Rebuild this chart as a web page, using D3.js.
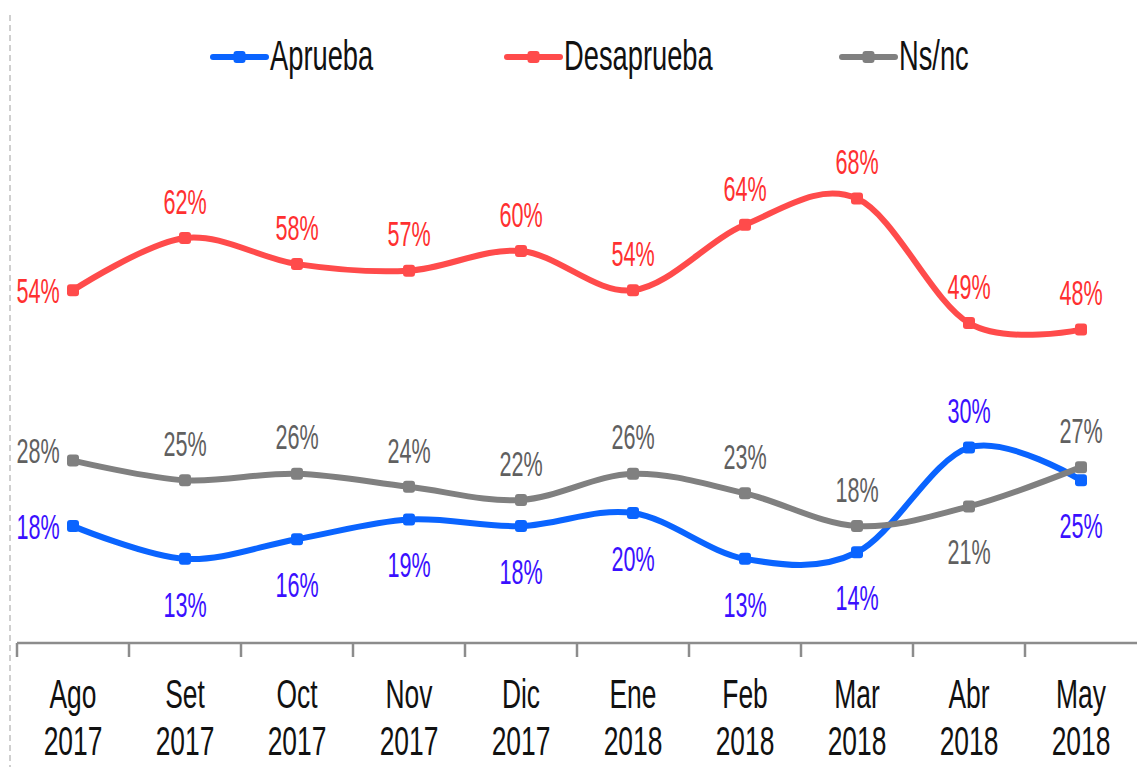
<!DOCTYPE html>
<html>
<head>
<meta charset="utf-8">
<script src="https://cdn.jsdelivr.net/npm/d3@7"></script>
<style>
  body { margin: 0; background: #fff; }
  text { font-family: "Liberation Sans", Arial, sans-serif; }
</style>
</head>
<body>
<div id="chart"></div>
<script>
(() => {

// DATA
const months = ["Ago", "Set", "Oct", "Nov", "Dic", "Ene", "Feb", "Mar", "Abr", "May"];
const years = ["2017", "2017", "2017", "2017", "2017", "2018", "2018", "2018", "2018", "2018"];
const aprueba = [18, 13, 16, 19, 18, 20, 13, 14, 30, 25];
const desaprueba = [54, 62, 58, 57, 60, 54, 64, 68, 49, 48];
const nsnc = [28, 25, 26, 24, 22, 26, 23, 18, 21, 27];

// label placement: l = left, a = above, b = below
const apruebaPos = ["l", "b", "b", "b", "b", "b", "b", "b", "a", "b"];
const desapruebaPos = ["l", "a", "a", "a", "a", "a", "a", "a", "a", "a"];
const nsncPos = ["l", "a", "a", "a", "a", "a", "a", "a", "b", "a"];

const series = [
  { name: "Aprueba", values: aprueba, pos: apruebaPos, line: "#0a64ff", label: "#3a10ff" },
  { name: "Desaprueba", values: desaprueba, pos: desapruebaPos, line: "#ff4b4b", label: "#ff3030" },
  { name: "Ns/nc", values: nsnc, pos: nsncPos, line: "#808080", label: "#606060" }
];

const width = 1138, height = 767;

const svg = d3.select("#chart")
  .append("svg")
  .attr("width", width)
  .attr("height", height);

// scales
const x = d3.scaleBand()
  .domain(months)
  .range([17, 1137])
  .padding(0);

const y = d3.scaleLinear()
  .domain([0, 90])
  .range([644, 54.5]);

const cx = i => x(months[i]) + x.bandwidth() / 2;

// squeezed text helper
function txt(g, str, tx, ty, size, sx, fill, anchor) {
  return g.append("text")
    .attr("transform", `translate(${tx},${ty}) scale(${sx},1)`)
    .attr("text-anchor", anchor || "middle")
    .attr("font-size", size)
    .attr("fill", fill)
    .text(str);
}

// left dashed border
svg.append("line")
  .attr("x1", 10).attr("x2", 10)
  .attr("y1", 15).attr("y2", height)
  .attr("stroke", "#cfcfcf")
  .attr("stroke-width", 2)
  .attr("stroke-dasharray", "6,4");

// x axis
const axisY = y(0) - 1;
svg.append("line")
  .attr("x1", 17).attr("x2", 1137)
  .attr("y1", axisY).attr("y2", axisY)
  .attr("stroke", "#8c8c8c")
  .attr("stroke-width", 2.5);

svg.selectAll(".tick")
  .data(months)
  .enter()
  .append("line")
  .attr("x1", d => x(d)).attr("x2", d => x(d))
  .attr("y1", axisY).attr("y2", axisY + 14)
  .attr("stroke", "#8c8c8c")
  .attr("stroke-width", 2.5);

const axisG = svg.append("g");
months.forEach((m, i) => {
  txt(axisG, m, cx(i), 708, 40, 0.66, "#111");
  txt(axisG, years[i], cx(i), 755, 40, 0.66, "#111");
});

// lines
const line = d3.line()
  .x((d, i) => cx(i))
  .y(d => y(d))
  .curve(d3.curveCardinal.tension(0));

series.forEach(s => {
  svg.append("path")
    .datum(s.values)
    .attr("d", line)
    .attr("fill", "none")
    .attr("stroke", s.line)
    .attr("stroke-width", 6)
    .attr("stroke-linecap", "round");

  svg.selectAll(null)
    .data(s.values)
    .enter()
    .append("rect")
    .attr("x", (d, i) => cx(i) - 6)
    .attr("y", d => y(d) - 6)
    .attr("width", 12)
    .attr("height", 12)
    .attr("rx", 3)
    .attr("fill", s.line);

  const lg = svg.append("g").attr("dominant-baseline", "central");
  s.values.forEach((v, i) => {
    let lx = cx(i), ly = y(v);
    if (s.pos[i] === "l") {
      lx = 38;
      if (s.name === "Ns/nc") ly -= 10;
    } else if (s.pos[i] === "a") {
      ly -= 37;
    } else {
      ly += 45;
    }
    txt(lg, v + "%", lx, ly, 36, 0.6, s.label);
  });
});

// legend
const legendX = [213, 507, 842];
const legend = svg.append("g");
series.forEach((s, i) => {
  const lx = legendX[i];
  legend.append("line")
    .attr("x1", lx).attr("x2", lx + 53)
    .attr("y1", 57).attr("y2", 57)
    .attr("stroke", s.line)
    .attr("stroke-width", 6)
    .attr("stroke-linecap", "round");
  legend.append("rect")
    .attr("x", lx + 26.5 - 6).attr("y", 51)
    .attr("width", 12).attr("height", 12)
    .attr("rx", 3)
    .attr("fill", s.line);
  txt(legend, s.name, lx + 57, 70, 42, 0.65, "#111", "start");
});

})();
</script>
</body>
</html>
